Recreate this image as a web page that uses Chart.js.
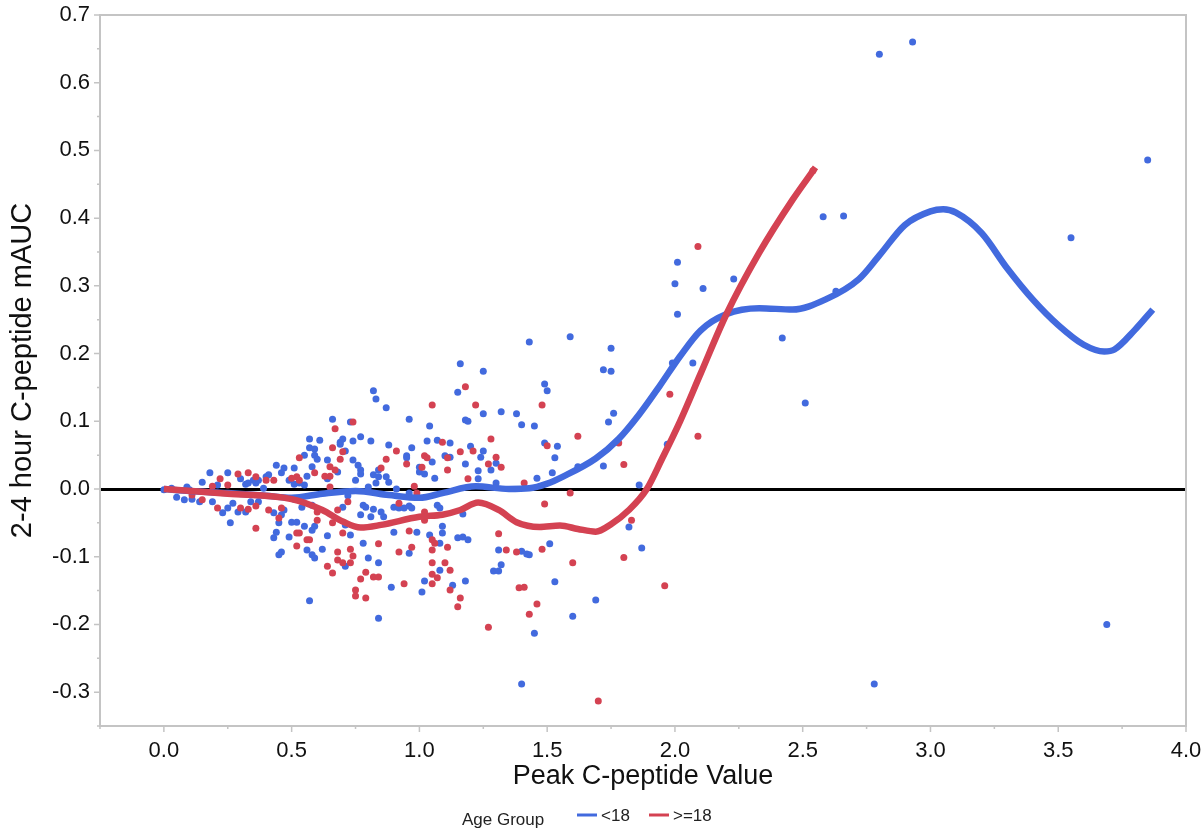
<!DOCTYPE html>
<html>
<head>
<meta charset="utf-8">
<script src="https://cdn.jsdelivr.net/npm/chart.js@4.4.0/dist/chart.umd.min.js"></script>
<style>
  html, body { margin: 0; padding: 0; background: #fff; }
</style>
</head>
<body>
<canvas id="myChart" width="1202" height="829"></canvas>
<script>
// Age group < 18: [peak C-peptide, 2-4 h mAUC]
const under18Points = [
  [2.93,0.66],[2.80,0.642],[3.85,0.486],[2.58,0.402],[2.66,0.403],[3.55,0.371],[2.23,0.31],[2.01,0.335],
  [2.00,0.303],[2.11,0.296],[2.01,0.258],[2.42,0.223],[1.99,0.186],[2.07,0.186],[2.51,0.127],[1.97,0.066],
  [2.63,0.292],[3.69,-0.2],[2.78,-0.288],
  [1.43,0.217],[1.59,0.225],[1.75,0.208],[1.72,0.176],[1.75,0.174],[1.49,0.155],[1.50,0.145],[1.45,0.093],
  [1.76,0.112],[1.74,0.099],[1.49,0.068],[1.54,0.063],[1.53,0.046],[1.52,0.024],[1.46,0.016],[1.72,0.034],
  [1.62,0.033],[1.86,0.006],[1.82,-0.056],[1.87,-0.087],[1.51,-0.081],[1.43,-0.097],[1.53,-0.137],
  [1.69,-0.164],[1.60,-0.188],[1.45,-0.213],[1.40,-0.288],
  [1.16,0.185],[1.25,0.174],[1.15,0.143],[1.25,0.111],[1.32,0.114],[1.38,0.111],[1.40,0.095],[1.04,0.093],
  [1.18,0.102],[1.19,0.1],[0.96,0.103],[1.03,0.071],[1.07,0.072],[1.12,0.068],[0.97,0.061],[1.20,0.063],
  [1.25,0.056],[1.10,0.049],[1.12,0.047],[1.24,0.047],[1.05,0.04],[1.18,0.037],[1.30,0.038],[1.00,0.032],
  [1.28,0.028],[1.00,0.025],[1.02,0.022],[1.06,0.016],[1.23,0.027],[1.23,0.015],[1.30,0.009],[0.96,-0.025],
  [0.97,-0.028],[1.07,-0.024],[1.08,-0.028],[1.17,-0.037],[1.09,-0.055],[1.09,-0.065],[0.99,-0.064],
  [0.96,-0.095],[1.04,-0.068],[1.15,-0.072],[1.17,-0.071],[1.19,-0.075],[1.08,-0.08],[1.31,-0.09],
  [1.40,-0.092],[1.42,-0.096],[1.32,-0.112],[1.29,-0.121],[1.31,-0.121],[1.08,-0.12],[1.02,-0.136],
  [1.18,-0.136],[1.13,-0.142],[1.01,-0.152],
  [0.82,0.145],[0.83,0.133],[0.87,0.12],[0.66,0.103],[0.73,0.099],[0.57,0.074],[0.61,0.072],[0.69,0.069],
  [0.70,0.074],[0.69,0.066],[0.74,0.071],[0.77,0.077],[0.81,0.071],[0.71,0.056],[0.88,0.065],[0.57,0.061],
  [0.59,0.059],[0.55,0.05],[0.59,0.05],[0.60,0.044],[0.64,0.043],[0.74,0.043],[0.95,0.049],[0.95,0.046],
  [0.51,0.031],[0.58,0.033],[0.76,0.035],[0.77,0.028],[0.68,0.025],[0.84,0.028],[0.82,0.021],[0.87,0.018],
  [0.84,0.018],[0.77,0.022],[0.75,0.013],[0.56,0.019],[0.55,0.006],[0.51,0.007],[0.53,0.009],[0.64,0.015],
  [0.88,0.01],[0.83,0.009],[0.80,0.003],[0.91,0],[0.96,-0.006],[0.54,-0.027],[0.58,-0.024],[0.70,-0.027],
  [0.51,-0.015],[0.72,-0.01],[0.78,-0.024],[0.79,-0.027],[0.81,-0.041],[0.82,-0.03],[0.85,-0.034],
  [0.86,-0.041],[0.90,-0.027],[0.92,-0.028],[0.94,-0.028],[0.77,-0.038],[0.50,-0.049],[0.52,-0.049],
  [0.55,-0.055],[0.59,-0.055],[0.58,-0.061],[0.71,-0.053],[0.90,-0.064],[0.64,-0.069],[0.73,-0.068],
  [0.49,-0.071],[0.56,-0.09],[0.62,-0.089],[0.58,-0.097],[0.59,-0.102],[0.78,-0.08],[0.71,-0.114],
  [0.80,-0.102],[0.84,-0.109],[0.89,-0.145],[0.57,-0.165],[0.84,-0.191],
  [0,-0.001],[0.03,0.001],[0.05,-0.012],[0.09,0.003],[0.10,-0.001],[0.08,-0.016],[0.11,-0.015],[0.14,-0.019],
  [0.15,0.01],[0.18,0.024],[0.19,-0.019],[0.21,0.006],[0.23,-0.035],[0.25,0.024],[0.25,-0.028],[0.26,-0.05],
  [0.27,-0.021],[0.29,-0.034],[0.30,0.015],[0.32,0.007],[0.32,-0.034],[0.33,0.009],[0.35,0.013],[0.36,0.009],
  [0.37,0.013],[0.39,0.001],[0.40,0.018],[0.41,0.021],[0.44,0.035],[0.46,0.024],[0.47,0.031],[0.49,0.013],
  [0.43,-0.035],[0.46,-0.038],[0.47,-0.031],[0.45,-0.05],[0.44,-0.064],[0.43,-0.072],[0.46,-0.093],
  [0.45,-0.097],[0.34,-0.019],[0.37,-0.019]
];

// Age group >= 18
const adultPoints = [
  [2.09,0.358],[1.98,0.14],[2.09,0.078],[1.96,-0.143],[2.54,0.47],
  [1.48,0.124],[1.62,0.078],[1.50,0.064],[1.78,0.068],[1.80,0.036],[1.59,-0.006],[1.49,-0.022],[1.83,-0.046],
  [1.48,-0.089],[1.60,-0.109],[1.80,-0.101],[1.46,-0.17],[1.43,-0.185],[1.70,-0.313],
  [1.18,0.151],[1.05,0.124],[1.22,0.124],[1.28,0.074],[1.09,0.069],[1.16,0.055],[1.21,0.056],[1.02,0.049],
  [1.03,0.046],[1.11,0.046],[1.30,0.047],[1.01,0.032],[1.32,0.032],[1.11,0.028],[1.27,0.037],[1.19,0.015],
  [1.41,0.009],[0.98,0.004],[0.99,-0.006],[1.02,-0.034],[1.02,-0.046],[0.96,-0.062],[1.31,-0.066],
  [1.05,-0.075],[1.06,-0.08],[1.05,-0.09],[1.11,-0.086],[1.34,-0.09],[1.38,-0.093],[0.97,-0.086],
  [1.05,-0.109],[1.10,-0.109],[1.12,-0.12],[1.05,-0.126],[1.07,-0.131],[1.05,-0.14],[1.12,-0.149],
  [1.39,-0.146],[1.41,-0.145],[1.16,-0.161],[1.15,-0.174],[1.27,-0.204],
  [0.74,0.099],[0.67,0.089],[0.66,0.061],[0.70,0.055],[0.91,0.056],[0.69,0.044],[0.87,0.044],[0.53,0.046],
  [0.65,0.033],[0.85,0.031],[0.67,0.028],[0.95,0.037],[0.65,0.019],[0.63,0.019],[0.59,0.024],[0.52,0.018],
  [0.50,0.016],[0.53,0.013],[0.65,0.003],[0.72,-0.019],[0.92,-0.021],[0.60,-0.034],[0.68,-0.031],
  [0.66,-0.05],[0.60,-0.046],[0.52,-0.065],[0.53,-0.065],[0.70,-0.065],[0.56,-0.075],[0.57,-0.075],
  [0.52,-0.084],[0.84,-0.081],[0.68,-0.093],[0.73,-0.089],[0.92,-0.093],[0.74,-0.099],[0.68,-0.105],
  [0.70,-0.109],[0.73,-0.109],[0.66,-0.124],[0.64,-0.114],[0.79,-0.123],[0.82,-0.13],[0.84,-0.13],
  [0.77,-0.133],[0.94,-0.14],[0.75,-0.149],[0.75,-0.158],[0.79,-0.161],
  [0.22,0.015],[0.29,0.022],[0.33,0.024],[0.36,0.018],[0.40,0.013],[0.43,0.013],[0.19,0.004],[0.25,0.006],
  [0.21,-0.028],[0.30,-0.028],[0.33,-0.03],[0.36,-0.025],[0.41,-0.031],[0.45,-0.043],[0.46,-0.028],
  [0.36,-0.058],[0.15,-0.016],[0.11,-0.009]
];

// smoother fits
const under18Fit = [
  [0,0],[0.1,-0.003],[0.25,-0.006],[0.4,-0.01],[0.5,-0.013],[0.62,-0.007],[0.75,-0.003],[0.88,-0.009],
  [1.0,-0.013],[1.09,-0.006],[1.22,0.004],[1.35,0],[1.43,0.001],[1.5,0.008],[1.56,0.018],[1.69,0.045],
  [1.78,0.074],[1.86,0.11],[1.94,0.152],[2.02,0.196],[2.1,0.234],[2.2,0.258],[2.33,0.267],[2.46,0.265],
  [2.59,0.28],[2.72,0.31],[2.8,0.345],[2.9,0.39],[3.0,0.41],[3.05,0.413],[3.1,0.408],[3.2,0.378],
  [3.3,0.326],[3.4,0.28],[3.5,0.242],[3.6,0.213],[3.68,0.203],[3.72,0.206],[3.8,0.235],[3.87,0.265]
];
const adultFit = [
  [0,0],[0.25,-0.007],[0.5,-0.015],[0.62,-0.031],[0.7,-0.048],[0.77,-0.057],[0.85,-0.053],[1.0,-0.041],
  [1.09,-0.038],[1.16,-0.031],[1.23,-0.02],[1.31,-0.031],[1.38,-0.049],[1.47,-0.056],[1.55,-0.054],
  [1.62,-0.059],[1.69,-0.063],[1.75,-0.052],[1.82,-0.031],[1.89,0.0],[1.95,0.045],[2.02,0.1],[2.1,0.17],
  [2.2,0.257],[2.33,0.349],[2.46,0.427],[2.55,0.475]
];

const xTicks = [0, 0.5, 1.0, 1.5, 2.0, 2.5, 3.0, 3.5, 4.0];
const yTicks = [-0.3, -0.2, -0.1, 0, 0.1, 0.2, 0.3, 0.4, 0.5, 0.6, 0.7];

const BLUE = 'rgb(66,106,222)';
const RED = 'rgb(212,66,82)';
const FONT = '"Liberation Sans", Arial, sans-serif';

const toXY = arr => arr.map(p => ({x: p[0], y: p[1]}));

// frame, major/minor tick marks and the bottom legend
const frameAndTicks = {
  id: 'frameAndTicks',
  afterDatasetsDraw(chart) {
    const {ctx, chartArea: a, scales: {x, y}} = chart;
    ctx.save();
    ctx.strokeStyle = '#c4c4c4';
    ctx.lineWidth = 2;
    ctx.strokeRect(a.left, a.top, a.right - a.left, a.bottom - a.top);
    ctx.lineWidth = 1.5;
    ctx.beginPath();
    for (let i = 0; i <= 21; i++) {
      const py = y.getPixelForValue(-0.35 + i * 0.05);
      const len = i % 2 === 1 ? 6 : 3;
      ctx.moveTo(a.left - len, py);
      ctx.lineTo(a.left, py);
    }
    for (let i = 0; i <= 17; i++) {
      const px = x.getPixelForValue(-0.25 + i * 0.25);
      const len = i % 2 === 1 ? 6 : 3;
      ctx.moveTo(px, a.bottom);
      ctx.lineTo(px, a.bottom + len);
    }
    ctx.stroke();

    ctx.font = '17px ' + FONT;
    ctx.fillStyle = '#222';
    ctx.textBaseline = 'middle';
    ctx.fillText('Age Group', 462, 820);
    ctx.lineWidth = 3;
    ctx.strokeStyle = BLUE;
    ctx.beginPath(); ctx.moveTo(577, 815); ctx.lineTo(597, 815); ctx.stroke();
    ctx.fillText('<18', 601, 816);
    ctx.strokeStyle = RED;
    ctx.beginPath(); ctx.moveTo(649, 815); ctx.lineTo(669, 815); ctx.stroke();
    ctx.fillText('>=18', 673, 816);
    ctx.restore();
  }
};

new Chart(document.getElementById('myChart'), {
  type: 'scatter',
  data: {
    datasets: [
      {
        label: '<18 fit', type: 'line', data: toXY(under18Fit),
        borderColor: BLUE, borderWidth: 6.5, pointRadius: 0,
        cubicInterpolationMode: 'monotone', fill: false, order: 1
      },
      {
        label: '>=18 fit', type: 'line', data: toXY(adultFit),
        borderColor: RED, borderWidth: 6.5, pointRadius: 0,
        cubicInterpolationMode: 'monotone', fill: false, order: 0
      },
      {
        label: '<18', data: toXY(under18Points),
        backgroundColor: BLUE, borderWidth: 0, pointRadius: 3.5, order: 3
      },
      {
        label: '>=18', data: toXY(adultPoints),
        backgroundColor: RED, borderWidth: 0, pointRadius: 3.5, order: 2
      }
    ]
  },
  options: {
    responsive: false,
    animation: false,
    layout: { padding: { left: 0, right: 16, top: 15, bottom: 0 } },
    plugins: { legend: { display: false }, tooltip: { enabled: false } },
    scales: {
      x: {
        type: 'linear', min: -0.25, max: 4.0,
        afterBuildTicks: s => { s.ticks = xTicks.map(v => ({value: v})); },
        afterFit: s => { s.height = 103; s.paddingLeft = 0; s.paddingRight = 0; },
        grid: { display: false },
        border: { display: false },
        ticks: {
          padding: 4, color: '#111', maxRotation: 0,
          font: { family: FONT, size: 22 },
          callback: v => v.toFixed(1)
        },
        title: {
          display: true, text: 'Peak C-peptide Value', color: '#111',
          font: { family: FONT, size: 27 }, padding: { top: 4, bottom: 36 }
        }
      },
      y: {
        type: 'linear', min: -0.35, max: 0.7,
        afterBuildTicks: s => { s.ticks = yTicks.map(v => ({value: v})); },
        afterFit: s => { s.width = 100; s.paddingTop = 0; s.paddingBottom = 0; },
        grid: {
          drawTicks: false,
          color: c => (c.tick && Math.abs(c.tick.value) < 1e-9) ? '#000' : 'rgba(0,0,0,0)',
          lineWidth: c => (c.tick && Math.abs(c.tick.value) < 1e-9) ? 3 : 0
        },
        border: { display: false },
        ticks: {
          padding: 10, color: '#111',
          font: { family: FONT, size: 22 },
          callback: v => v.toFixed(1)
        },
        title: {
          display: true, text: '2-4 hour C-peptide mAUC', color: '#111',
          font: { family: FONT, size: 29 }, padding: { top: 6, bottom: 0 }
        }
      }
    }
  },
  plugins: [frameAndTicks]
});
</script>
</body>
</html>
